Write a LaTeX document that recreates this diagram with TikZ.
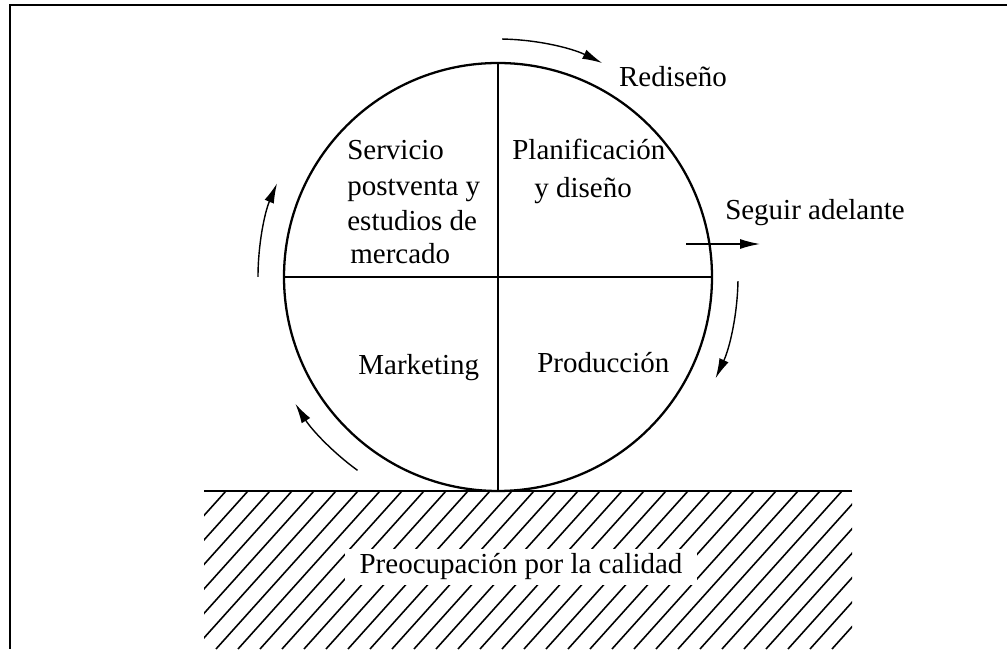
\documentclass[tikz,border=0pt]{standalone}
\usepackage{fontspec}
\setmainfont{Liberation Serif}
\usetikzlibrary{arrows.meta}
\begin{document}
\begin{tikzpicture}[x=0.02cm,y=0.02cm,
  lbl/.style={font=\fontsize{16.5}{20}\selectfont, inner sep=0pt},
  arr/.style={line width=0.8pt, -{Latex[length=0.4cm,width=0.2cm]}},
  wheel/.style={line width=1.3pt},
  hatchline/.style={line width=0.9pt},
  frameline/.style={line width=1.6pt}]
\useasboundingbox (0,0) rectangle (1007,649);
% frame
\coordinate (f1) at (1007,644);
\coordinate (f2) at (10,644);
\coordinate (f3) at (10,0);
\draw[frameline] (f1) -- (f2) -- (f3);
% ground with hatching
\begin{scope}
  \clip (204,0) rectangle (852,158);
  \foreach \k in {0,...,36} \draw[hatchline] ({62+22*\k},0) -- ++(142,158);
\end{scope}
\coordinate (g1) at (204,158);
\coordinate (g2) at (852,158);
\draw[line width=1.2pt] (g1) -- (g2);
\node[lbl, fill=white, inner xsep=0.3cm, inner ysep=0.1cm] (pq) at (521,82) {Preocupación por la calidad};
% wheel
\coordinate (c) at (498,372);
\draw[wheel] (c) circle[radius=214];
\coordinate (wt) at (498,586);
\coordinate (wb) at (498,158);
\coordinate (wl) at (284,372);
\coordinate (wr) at (712,372);
\draw[wheel] (wt) -- (wb);
\draw[wheel] (wl) -- (wr);
% quadrant labels
\node[lbl, anchor=base west] (s1) at (347,489) {Servicio};
\node[lbl, anchor=base west] (s2) at (347,453) {postventa y};
\node[lbl, anchor=base west] (s3) at (347,418) {estudios de};
\node[lbl, anchor=base west] (s4) at (350,385) {mercado};
\node[lbl, anchor=base west] (p1) at (512,489) {Planificación};
\node[lbl, anchor=base west] (p2) at (534,451) {y diseño};
\node[lbl, anchor=base west] (mk) at (358,274) {Marketing};
\node[lbl, anchor=base west] (pr) at (537,276) {Producción};
% outer labels
\node[lbl] (rd) at (673,572) {Rediseño};
\node[lbl] (sa) at (815,436) {Seguir adelante};
% rotation arrows
\coordinate (a1) at ([shift={(89:238)}]c);
\draw[arr] (a1) arc[start angle=89, end angle=64, radius=238];
\coordinate (a2) at ([shift={(-1:240)}]c);
\draw[arr] (a2) arc[start angle=-1, end angle=-25, radius=240];
\coordinate (a3) at ([shift={(234:239)}]c);
\draw[arr] (a3) arc[start angle=234, end angle=212, radius=239];
\coordinate (a4) at ([shift={(180:240)}]c);
\draw[arr] (a4) arc[start angle=180, end angle=157, radius=240];
% go ahead arrow
\coordinate (sa1) at (686,405);
\coordinate (sa2) at (760,405);
\draw[arr] (sa1) -- (sa2);
\end{tikzpicture}
\end{document}
